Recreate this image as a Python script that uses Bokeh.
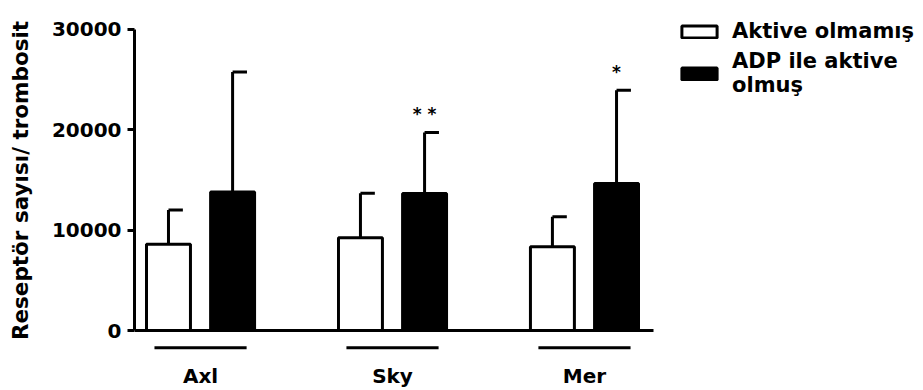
from bokeh.plotting import figure
from bokeh.models import Range1d, FixedTicker, Legend, LegendItem, ColumnDataSource, LinearAxis
from bokeh.embed import file_html
from bokeh.resources import INLINE

# ---- data ----
categories = ["Axl", "Sky", "Mer"]
inactive_mean = [8600, 9250, 8350]
inactive_sd = [3420, 4430, 3000]
adp_mean = [13800, 13650, 14650]
adp_sd = [11960, 6090, 9290]
significance = ["", "* *", "*"]
y_ticks = [0, 10000, 20000, 30000]
series_names = ["Aktive olmamış", "ADP ile aktive\nolmuş"]
y_label = "Reseptör sayısı/ trombosit"

# ---- styling / layout constants ----
FONT = "DejaVu Sans"
OFFSET = 0.167     # dodge of each bar from the group centre (x units)
BAR_W = 0.229      # bar width (x units)
CAP = 0.075        # half-cap length of error bars (x units)
UNDERLINE_HALF = 0.24
UNDERLINE_Y = -1700
X_START, X_AXIS_END, X_END = -0.344, 2.359, 3.766
LW = 3

idx = list(range(len(categories)))
x_in = [i - OFFSET for i in idx]
x_adp = [i + OFFSET for i in idx]

src_in = ColumnDataSource(dict(
    x=x_in, top=inactive_mean,
    err=[m + s for m, s in zip(inactive_mean, inactive_sd)],
    xc=[x + CAP for x in x_in]))
src_adp = ColumnDataSource(dict(
    x=x_adp, top=adp_mean,
    err=[m + s for m, s in zip(adp_mean, adp_sd)],
    xc=[x + CAP for x in x_adp], sig=significance))
src_ul = ColumnDataSource(dict(
    x0=[i - UNDERLINE_HALF for i in idx], x1=[i + UNDERLINE_HALF for i in idx],
    y=[UNDERLINE_Y] * len(idx)))

p = figure(width=923, height=390,
           x_range=Range1d(X_START, X_END), y_range=Range1d(-2483, 32384),
           output_backend="svg", toolbar_location=None,
           min_border_left=134, min_border_right=0,
           min_border_top=5, min_border_bottom=34)
p.outline_line_color = None
p.xgrid.visible = False
p.ygrid.visible = False

# error bars (drawn first so bars sit over the stems)
for src in (src_in, src_adp):
    p.segment(x0="x", y0="top", x1="x", y1="err", source=src,
              line_color="black", line_width=LW)
    p.segment(x0="x", y0="err", x1="xc", y1="err", source=src,
              line_color="black", line_width=LW)

r_in = p.vbar(x="x", top="top", bottom=0, width=BAR_W, source=src_in,
              fill_color="white", line_color="black", line_width=LW)
r_adp = p.vbar(x="x", top="top", bottom=0, width=BAR_W, source=src_adp,
               fill_color="black", line_color="black", line_width=LW)

p.text(x="x", y="err", text="sig", source=src_adp, text_align="center",
       text_baseline="middle", y_offset=-18, text_font_size="17px",
       text_font_style="bold", text_font={"value": FONT}, text_color="black")

p.segment(x0="x0", y0="y", x1="x1", y1="y", source=src_ul,
          line_color="black", line_width=LW)

# y axis
ya = p.yaxis[0]
ya.bounds = (0, 30000)
ya.ticker = FixedTicker(ticks=y_ticks)
ya.axis_line_width = LW
ya.major_tick_line_width = LW
ya.major_tick_out = 7
ya.major_tick_in = 0
ya.minor_tick_line_color = None
ya.major_label_text_font = FONT
ya.major_label_text_font_size = "20px"
ya.major_label_text_font_style = "bold"
ya.major_label_text_color = "black"
ya.major_label_standoff = 6
ya.axis_label = y_label
ya.axis_label_text_font = FONT
ya.axis_label_text_font_size = "21.5px"
ya.axis_label_text_font_style = "bold"
ya.axis_label_text_color = "black"
ya.axis_label_standoff = 16

# x axis line: baseline at y = 0, running only under the bars
xa = p.xaxis[0]
xa.fixed_location = 0
xa.bounds = (X_START, X_AXIS_END)
xa.ticker = FixedTicker(ticks=[])
xa.axis_line_width = LW
xa.axis_line_color = "black"
xa.major_tick_line_color = None
xa.minor_tick_line_color = None
xa.major_tick_out = 0
xa.major_tick_in = 0
xa.major_label_standoff = 0

# category labels on a second bottom axis (in the border, not clipped)
xl = LinearAxis(ticker=FixedTicker(ticks=idx),
                major_label_overrides={i: c for i, c in zip(idx, categories)},
                axis_line_color=None, major_tick_line_color=None,
                minor_tick_line_color=None, major_tick_out=0, major_tick_in=0,
                major_label_standoff=8, major_label_text_font=FONT,
                major_label_text_font_size="20px",
                major_label_text_font_style="bold",
                major_label_text_color="black")
p.add_layout(xl, "below")

legend = Legend(items=[LegendItem(label=series_names[0], renderers=[r_in]),
                       LegendItem(label=series_names[1], renderers=[r_adp])],
                location=(543, 258), glyph_width=44, glyph_height=15,
                label_standoff=11, padding=0, margin=0, spacing=6,
                border_line_color=None, background_fill_alpha=0,
                label_text_font=FONT, label_text_font_size="21px",
                label_text_font_style="bold", label_text_color="black")
p.add_layout(legend, "center")

open("out.html", "w").write(file_html(p, INLINE))
